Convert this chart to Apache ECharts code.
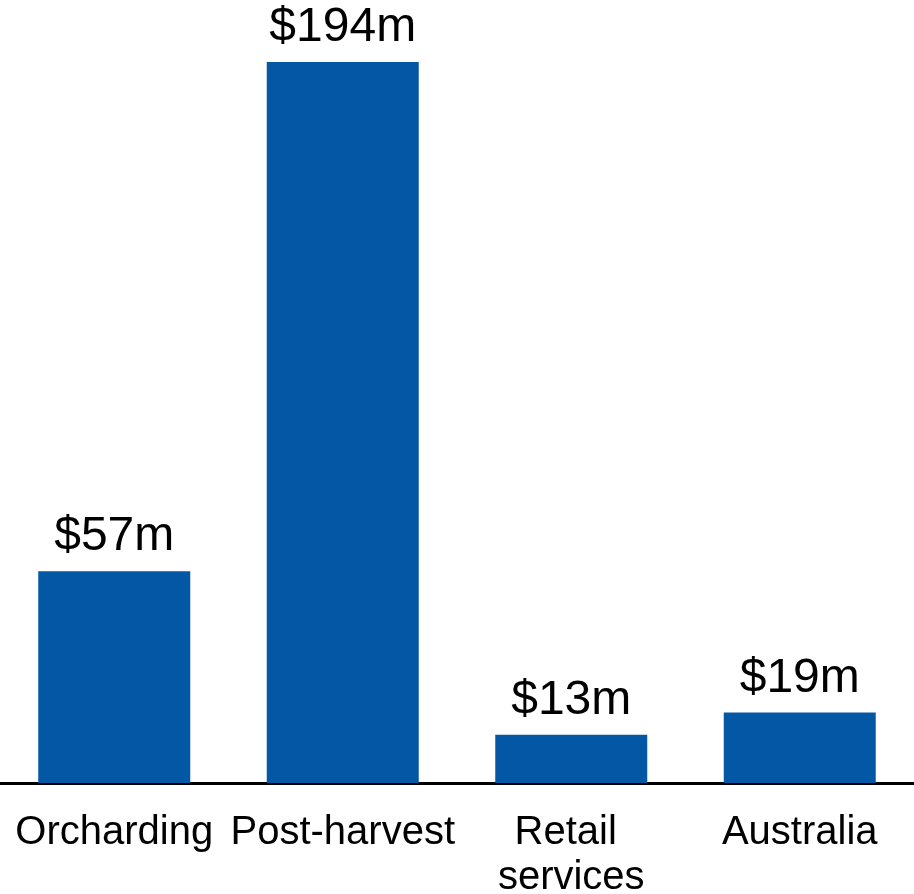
<!DOCTYPE html>
<html><head><meta charset="utf-8">
<script src="https://cdn.jsdelivr.net/npm/echarts@6/dist/echarts.min.js"></script>
<style>html,body{margin:0;padding:0;background:#fff;overflow:hidden}#c{width:914px;height:894px}</style>
</head><body><div id="c"></div>
<script>
const categories = ["Orcharding", "Post-harvest", "Retail services", "Australia"];
const values = [57, 194, 13, 19];
const valueLabels = ["$57m", "$194m", "$13m", "$19m"];

const chart = echarts.init(document.getElementById('c'), null, {renderer: 'canvas', width: 914, height: 894});
chart.setOption({
  animation: false,
  grid: {left: 0, right: 0, top: 62, bottom: 111, containLabel: false, outerBoundsMode: 'none'},
  xAxis: {
    type: 'category',
    data: categories,
    axisLine: {show: true, lineStyle: {color: '#000', width: 3}},
    axisTick: {show: false},
    axisLabel: {
      interval: 0, color: '#000', fontFamily: 'Liberation Sans, Arial, sans-serif',
      fontSize: 40, lineHeight: 45, margin: 27, width: 228, overflow: 'break'
    }
  },
  yAxis: {type: 'value', min: 0, max: 194, show: false, splitLine: {show: false}},
  series: [{
    type: 'bar',
    data: values,
    barWidth: 152,
    itemStyle: {color: '#0457A4'},
    label: {
      show: true, position: 'top', distance: 10, color: '#000',
      fontFamily: 'Liberation Sans, Arial, sans-serif', fontSize: 48,
      formatter: p => valueLabels[p.dataIndex]
    }
  }]
});
</script></body></html>
